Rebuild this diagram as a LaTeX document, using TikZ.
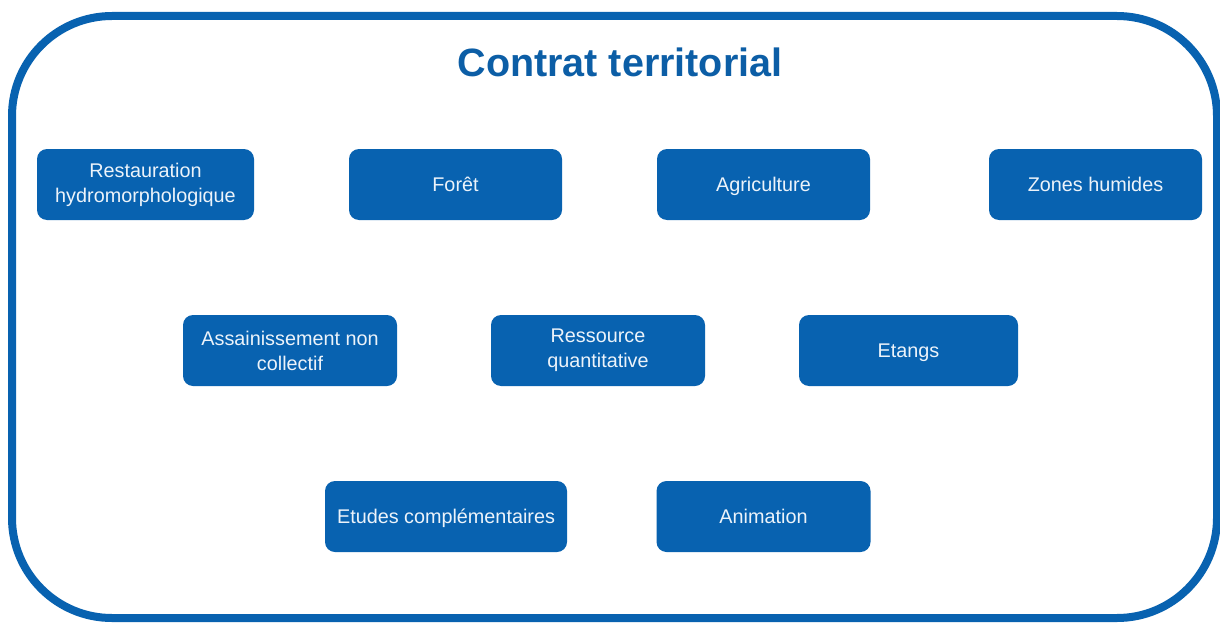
\documentclass[tikz,border=0pt]{standalone}
\usepackage{fontspec}
\setmainfont{Liberation Sans}
\definecolor{boxblue}{RGB}{8,98,176}
\definecolor{titleblue}{RGB}{12,94,166}
\definecolor{boxtext}{RGB}{236,243,250}
\begin{document}
\begin{tikzpicture}[x=1pt,y=-1pt,
  item/.style={draw=none, fill=boxblue, rounded corners=10pt, text=boxtext,
    minimum height=71pt, align=center, inner sep=2pt,
    font=\fontsize{19.8}{25}\selectfont},
  single/.style={text height=16pt, text depth=2pt},
  frame/.style={draw=boxblue, line width=8pt, rounded corners=100pt}]
\useasboundingbox (0,0) rectangle (1220,623);
\fill[white] (0,0) rectangle (1220,623);
\draw[frame] (12,16) rectangle (1217,618);
\node[text=titleblue, font=\fontsize{39.5}{46}\selectfont\bfseries] (title) at (620,62) {Contrat territorial};
\node[item, minimum width=217pt] (rest) at (145.5,184.5) {Restauration\\hydromorphologique};
\node[item, single, minimum width=213pt] (foret) at (455.5,184.5) {Forêt};
\node[item, single, minimum width=213pt] (agri) at (763.5,184.5) {Agriculture};
\node[item, single, minimum width=213pt] (zones) at (1095.5,184.5) {Zones humides};
\node[item, minimum width=214pt] (assain) at (290,350.5) {Assainissement non\\collectif};
\node[item, minimum width=214pt] (ress) at (598,350.5) {Ressource\\quantitative};
\node[item, single, minimum width=219pt] (etangs) at (908.5,350.5) {Etangs};
\node[item, single, minimum width=242pt] (etudes) at (446,516.5) {Etudes complémentaires};
\node[item, single, minimum width=214pt] (anim) at (763.5,516.5) {Animation};
\end{tikzpicture}
\end{document}
